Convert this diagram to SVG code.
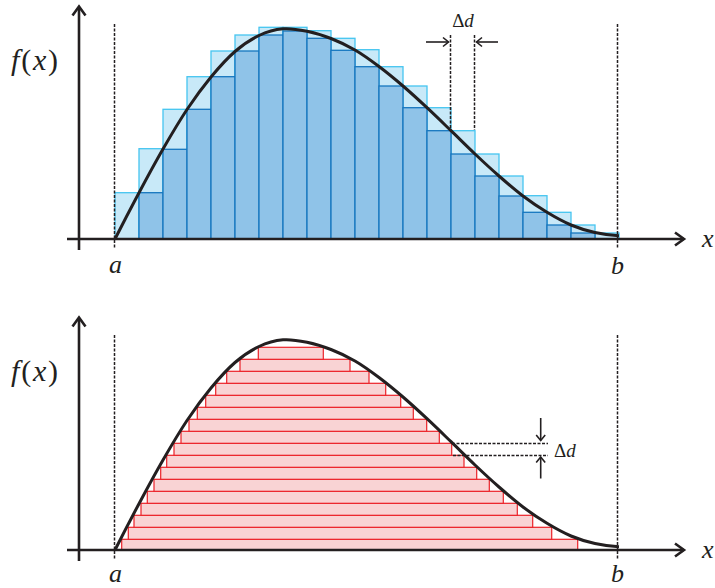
<svg xmlns="http://www.w3.org/2000/svg" width="715" height="588" viewBox="0 0 715 588">
<style>
.lb{fill:#c8e9f8;stroke:#45c5f0;stroke-width:1.3}
.db{fill:#8fc3e8;stroke:#1677bf;stroke-width:1.3}
.st{fill:#f9d3d4;stroke:#ec2229;stroke-width:1.2}
.ax{fill:none;stroke:#231f20;stroke-width:2.6}
.ah{fill:none;stroke:#231f20;stroke-width:2.6;stroke-linejoin:miter}
.cv{fill:none;stroke:#231f20;stroke-width:3}
.ds{fill:none;stroke:#231f20;stroke-width:1.5;stroke-dasharray:3 1.5}
.sm{fill:none;stroke:#231f20;stroke-width:1.6}
.lab{font-family:'Liberation Serif','DejaVu Serif',serif;fill:#231f20}
.it{font-style:italic}
</style>
<defs>
<path id="curve" d="M115,239 C123,223.13 131,207.7 139,192.7 C147,177.7 155,162.87 163,149 C171,135.13 179,121.5 187,109.5 C195,97.5 203,86.67 211,77 C219,67.33 227,58.42 235,51.5 C243,44.58 251,39.28 259,35.5 C267,31.72 275,29.52 283,28.8 C291,28.08 299,29.58 307,31.2 C315,32.82 323,35.37 331,38.5 C339,41.63 347,45.33 355,50 C363,54.67 371,60.5 379,66.5 C387,72.5 395,79.13 403,86 C411,92.87 419,100.25 427,107.7 C435,115.15 443,122.98 451,130.7 C459,138.42 467,146.45 475,154 C483,161.55 491,169 499,176 C507,183 515,189.95 523,196 C531,202.05 539,207.47 547,212.3 C555,217.13 563,221.63 571,225 C579,228.37 587,230.72 595,232.5 C603,234.28 611,235.35 619,235.7"/>
</defs>

<g id="top-panel">
<g id="upper-bars">
<rect class="lb" x="115" y="192.7" width="24" height="46.3"/>
<rect class="lb" x="139" y="148.7" width="24" height="90.3"/>
<rect class="lb" x="163" y="109.3" width="24" height="129.7"/>
<rect class="lb" x="187" y="76.7" width="24" height="162.3"/>
<rect class="lb" x="211" y="51" width="24" height="188"/>
<rect class="lb" x="235" y="35" width="24" height="204"/>
<rect class="lb" x="259" y="27.3" width="24" height="211.7"/>
<rect class="lb" x="283" y="27.3" width="24" height="211.7"/>
<rect class="lb" x="307" y="30.7" width="24" height="208.3"/>
<rect class="lb" x="331" y="38.3" width="24" height="200.7"/>
<rect class="lb" x="355" y="49.7" width="24" height="189.3"/>
<rect class="lb" x="379" y="66.7" width="24" height="172.3"/>
<rect class="lb" x="403" y="86" width="24" height="153"/>
<rect class="lb" x="427" y="107.7" width="24" height="131.3"/>
<rect class="lb" x="451" y="130.7" width="24" height="108.3"/>
<rect class="lb" x="475" y="154" width="24" height="85"/>
<rect class="lb" x="499" y="176" width="24" height="63"/>
<rect class="lb" x="523" y="195.7" width="24" height="43.3"/>
<rect class="lb" x="547" y="212.3" width="24" height="26.7"/>
<rect class="lb" x="571" y="225" width="24" height="14"/>
<rect class="lb" x="595" y="233" width="24" height="6"/>
</g>
<g id="lower-bars">
<rect class="db" x="139" y="192.7" width="24" height="46.3"/>
<rect class="db" x="163" y="149.3" width="24" height="89.7"/>
<rect class="db" x="187" y="109.3" width="24" height="129.7"/>
<rect class="db" x="211" y="76.7" width="24" height="162.3"/>
<rect class="db" x="235" y="51" width="24" height="188"/>
<rect class="db" x="259" y="35" width="24" height="204"/>
<rect class="db" x="283" y="31" width="24" height="208"/>
<rect class="db" x="307" y="38.3" width="24" height="200.7"/>
<rect class="db" x="331" y="50.3" width="24" height="188.7"/>
<rect class="db" x="355" y="66.7" width="24" height="172.3"/>
<rect class="db" x="379" y="86" width="24" height="153"/>
<rect class="db" x="403" y="107.7" width="24" height="131.3"/>
<rect class="db" x="427" y="130.7" width="24" height="108.3"/>
<rect class="db" x="451" y="154" width="24" height="85"/>
<rect class="db" x="475" y="176" width="24" height="63"/>
<rect class="db" x="499" y="196" width="24" height="43"/>
<rect class="db" x="523" y="212.3" width="24" height="26.7"/>
<rect class="db" x="547" y="225" width="24" height="14"/>
<rect class="db" x="571" y="233" width="24" height="6"/>
</g>
<g id="top-guides">
<line class="ds" x1="114.5" y1="24" x2="114.5" y2="249"/>
<line class="ds" x1="617.5" y1="24" x2="617.5" y2="249"/>
<line class="ds" x1="450.5" y1="35" x2="450.5" y2="130"/>
<line class="ds" x1="474.5" y1="35" x2="474.5" y2="130"/>
</g>
<use href="#curve" class="cv"/>
<g id="top-axes">
<line class="ax" x1="79" y1="7" x2="79" y2="250"/>
<polyline class="ah" points="72.5,15.5 79,6.5 85.5,15.5"/>
<line class="ax" x1="67" y1="239" x2="684" y2="239"/>
<polyline class="ah" points="675,232.5 684,239 675,245.5"/>
</g>
<g id="top-delta">
<line class="sm" x1="426" y1="42" x2="448.5" y2="42"/>
<polyline class="sm" points="443,37.5 448.5,42 443,46.5"/>
<line class="sm" x1="498" y1="42" x2="476.5" y2="42"/>
<polyline class="sm" points="482,37.5 476.5,42 482,46.5"/>
<text class="lab" x="463" y="27" font-size="19" text-anchor="middle" font-family="'Liberation Serif', serif">Δ<tspan class="it">d</tspan></text>
</g>
<text class="lab" x="11" y="70" font-size="30" letter-spacing="1.8" font-family="'Liberation Serif', serif"><tspan class="it">f</tspan>(<tspan class="it">x</tspan>)</text>
<text class="lab it" x="115.5" y="273" font-size="26" text-anchor="middle" font-family="'Liberation Serif', serif">a</text>
<text class="lab it" x="617.5" y="273.5" font-size="26" text-anchor="middle" font-family="'Liberation Serif', serif">b</text>
<text class="lab it" x="702" y="247" font-size="26" font-family="'Liberation Serif', serif">x</text>
</g>

<g id="bottom-panel">
<g id="strips">
<rect class="st" x="121.7" y="539.3" width="456" height="10.7"/>
<rect class="st" x="128.3" y="527.3" width="423.4" height="12"/>
<rect class="st" x="134" y="515.3" width="398.7" height="12"/>
<rect class="st" x="141" y="503.3" width="376.3" height="12"/>
<rect class="st" x="147.3" y="491.3" width="356" height="12"/>
<rect class="st" x="154" y="479.3" width="335.3" height="12"/>
<rect class="st" x="160.7" y="467.3" width="316" height="12"/>
<rect class="st" x="166.7" y="455.3" width="297.3" height="12"/>
<rect class="st" x="174" y="443.3" width="277.7" height="12"/>
<rect class="st" x="181" y="431.3" width="258.3" height="12"/>
<rect class="st" x="189" y="419.3" width="237.7" height="12"/>
<rect class="st" x="197.3" y="407.3" width="216" height="12"/>
<rect class="st" x="205.7" y="395.3" width="195" height="12"/>
<rect class="st" x="215.7" y="383.3" width="170" height="12"/>
<rect class="st" x="226.7" y="371.3" width="142.3" height="12"/>
<rect class="st" x="240" y="359.3" width="110" height="12"/>
<rect class="st" x="258.3" y="347.3" width="65" height="12"/>
</g>
<g id="bottom-guides">
<line class="ds" x1="114.5" y1="335" x2="114.5" y2="560"/>
<line class="ds" x1="617.5" y1="335" x2="617.5" y2="560"/>
<line class="ds" x1="452" y1="443.5" x2="548" y2="443.5"/>
<line class="ds" x1="453" y1="455.5" x2="548" y2="455.5"/>
</g>
<use href="#curve" class="cv" transform="translate(0,311)"/>
<g id="bottom-axes">
<line class="ax" x1="79" y1="318" x2="79" y2="561"/>
<polyline class="ah" points="72.5,326.5 79,317.5 85.5,326.5"/>
<line class="ax" x1="67" y1="550" x2="684" y2="550"/>
<polyline class="ah" points="675,543.5 684,550 675,556.5"/>
</g>
<g id="bottom-delta">
<line class="sm" x1="540.7" y1="418" x2="540.7" y2="440.5"/>
<polyline class="sm" points="536.2,435 540.7,440.5 545.2,435"/>
<line class="sm" x1="540.7" y1="478.5" x2="540.7" y2="457"/>
<polyline class="sm" points="536.2,462.5 540.7,457 545.2,462.5"/>
<text class="lab" x="554" y="457" font-size="19" font-family="'Liberation Serif', serif">Δ<tspan class="it">d</tspan></text>
</g>
<text class="lab" x="11" y="381" font-size="30" letter-spacing="1.8" font-family="'Liberation Serif', serif"><tspan class="it">f</tspan>(<tspan class="it">x</tspan>)</text>
<text class="lab it" x="115.5" y="582" font-size="26" text-anchor="middle" font-family="'Liberation Serif', serif">a</text>
<text class="lab it" x="617.5" y="582" font-size="26" text-anchor="middle" font-family="'Liberation Serif', serif">b</text>
<text class="lab it" x="702" y="558" font-size="26" font-family="'Liberation Serif', serif">x</text>
</g>
</svg>
